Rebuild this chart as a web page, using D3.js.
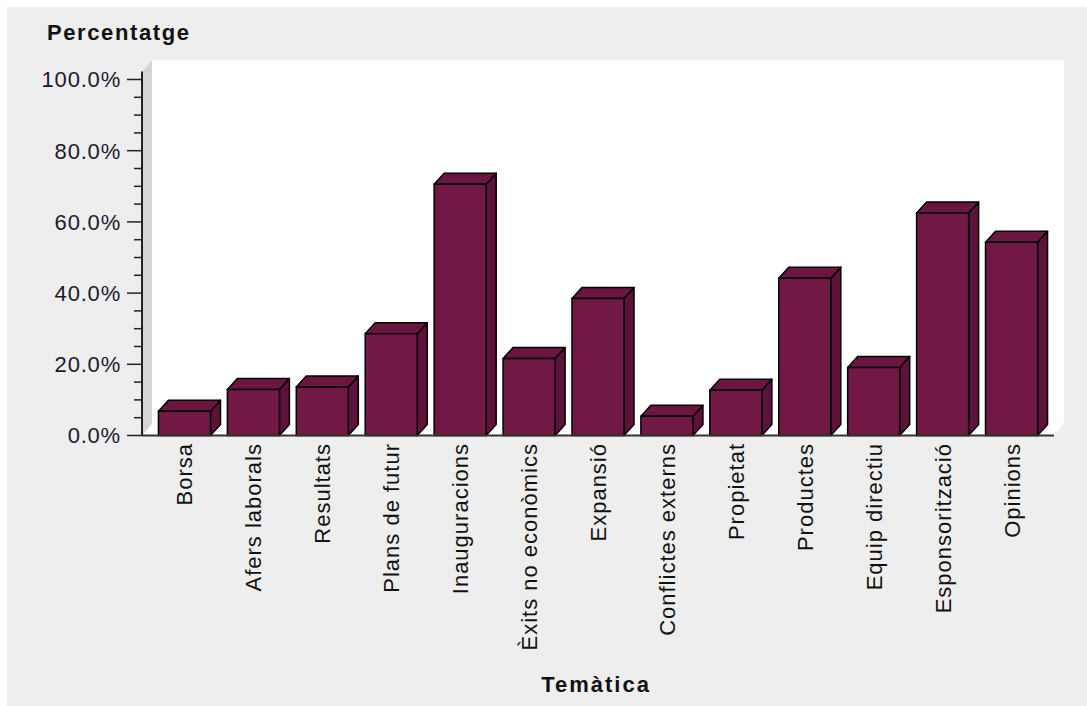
<!DOCTYPE html>
<html>
<head>
<meta charset="utf-8">
<script src="https://cdn.jsdelivr.net/npm/d3@7"></script>
<style>
  html, body { margin: 0; padding: 0; background: #ffffff; }
  svg { display: block; }
  text { font-family: "Liberation Sans", Arial, sans-serif; }
</style>
</head>
<body>
<svg id="chart" width="1087" height="706"></svg>
<script>
// Percentage of items per topic
const categories = [
  "Borsa", "Afers laborals", "Resultats", "Plans de futur", "Inauguracions",
  "Èxits no econòmics", "Expansió", "Conflictes externs", "Propietat",
  "Productes", "Equip directiu", "Esponsorització", "Opinions"
];
const values = [6.8, 12.9, 13.6, 28.6, 70.6, 21.6, 38.5, 5.4, 12.7, 44.2, 19.1, 62.5, 54.3];
const yTicks = [0, 20, 40, 60, 80, 100];
const yTitle = "Percentatge";
const xTitle = "Temàtica";

const svg = d3.select("#chart");
const W = 1087, H = 706;

// panel background
svg.append("rect").attr("x", 7).attr("y", 7).attr("width", W - 7).attr("height", H - 7)
  .attr("fill", "#eeeeee");

// plot geometry
const x0 = 142, x1 = 1054;      // front plane horizontal extent
const wallDX = 10, wallDY = 12; // depth of the walls
const barDX = 10, barDY = 11;   // depth of the bars

const y = d3.scaleLinear().domain([0, 100]).range([435.5, 79.5]);
const x = d3.scaleBand().domain(categories).range([150, 1046])
  .paddingInner(0.245).paddingOuter(0.1225);

const yb = y(0);
const topWall = 60;
const pts = a => a.map(p => p.join(",")).join(" ");

// back wall
svg.append("rect")
  .attr("x", x0 + wallDX).attr("y", topWall)
  .attr("width", x1 - x0).attr("height", yb - wallDY - topWall)
  .attr("fill", "#ffffff");
// floor
svg.append("polygon")
  .attr("points", pts([[x0, yb], [x0 + wallDX, yb - wallDY], [x1 + wallDX, yb - wallDY], [x1, yb]]))
  .attr("fill", "#ffffff");
// left side wall
svg.append("polygon")
  .attr("points", pts([[x0, topWall + wallDY], [x0 + wallDX, topWall], [x0 + wallDX, yb - wallDY], [x0, yb]]))
  .attr("fill", "#d4d4d4");

// bars (side, top and front faces)
const bars = svg.append("g").selectAll("g").data(categories).join("g");
bars.each(function (c, i) {
  const g = d3.select(this);
  const bx = x(c), bw = x.bandwidth(), ty = y(values[i]);
  g.append("polygon")
    .attr("points", pts([[bx + bw, ty], [bx + bw + barDX, ty - barDY], [bx + bw + barDX, yb - barDY], [bx + bw, yb]]))
    .attr("fill", "#5c1239").attr("stroke", "#000").attr("stroke-width", 1.5).attr("stroke-linejoin", "round");
  g.append("polygon")
    .attr("points", pts([[bx, ty], [bx + barDX, ty - barDY], [bx + bw + barDX, ty - barDY], [bx + bw, ty]]))
    .attr("fill", "#6b1641").attr("stroke", "#000").attr("stroke-width", 1.5).attr("stroke-linejoin", "round");
  g.append("rect")
    .attr("x", bx).attr("y", ty).attr("width", bw).attr("height", yb - ty)
    .attr("fill", "#721844").attr("stroke", "#000").attr("stroke-width", 1.5);
});

// floor front edge
svg.append("line").attr("x1", x0).attr("x2", x1).attr("y1", yb).attr("y2", yb)
  .attr("stroke", "#333").attr("stroke-width", 2);

// y axis with major and minor ticks
const yAxis = svg.append("g").attr("transform", `translate(${x0},0)`);
yAxis.append("line").attr("x1", 0).attr("x2", 0).attr("y1", y(100) - 8).attr("y2", yb)
  .attr("stroke", "#222").attr("stroke-width", 2);
const minor = d3.range(0, 100.001, 5).filter(v => v % 20 !== 0);
yAxis.selectAll("line.minor").data(minor).join("line").attr("class", "minor")
  .attr("x1", -8).attr("x2", 0).attr("y1", d => y(d)).attr("y2", d => y(d))
  .attr("stroke", "#222").attr("stroke-width", 1.5);
yAxis.selectAll("line.major").data(yTicks).join("line").attr("class", "major")
  .attr("x1", -15).attr("x2", 0).attr("y1", d => y(d)).attr("y2", d => y(d))
  .attr("stroke", "#222").attr("stroke-width", 1.5);
yAxis.selectAll("text").data(yTicks).join("text")
  .attr("x", -21).attr("y", d => y(d)).attr("dy", "0.36em")
  .attr("text-anchor", "end").attr("font-size", 22).attr("letter-spacing", 0.8)
  .attr("fill", "#1a1a2e")
  .text(d => d3.format(".1f")(d) + "%");

// category labels, rotated
svg.append("g").selectAll("text").data(categories).join("text")
  .attr("transform", c => `translate(${x(c) + x.bandwidth() / 2 + 8},443) rotate(-90)`)
  .attr("text-anchor", "end").attr("font-size", 22).attr("letter-spacing", 1)
  .attr("fill", "#111")
  .text(c => c);

// axis titles
svg.append("text").attr("x", 47).attr("y", 40).attr("font-size", 22).attr("font-weight", "bold")
  .attr("letter-spacing", 1.6).attr("fill", "#111").text(yTitle);
svg.append("text").attr("x", 596).attr("y", 692).attr("text-anchor", "middle")
  .attr("font-size", 22).attr("font-weight", "bold").attr("letter-spacing", 2)
  .attr("fill", "#111").text(xTitle);
</script>
</body>
</html>
